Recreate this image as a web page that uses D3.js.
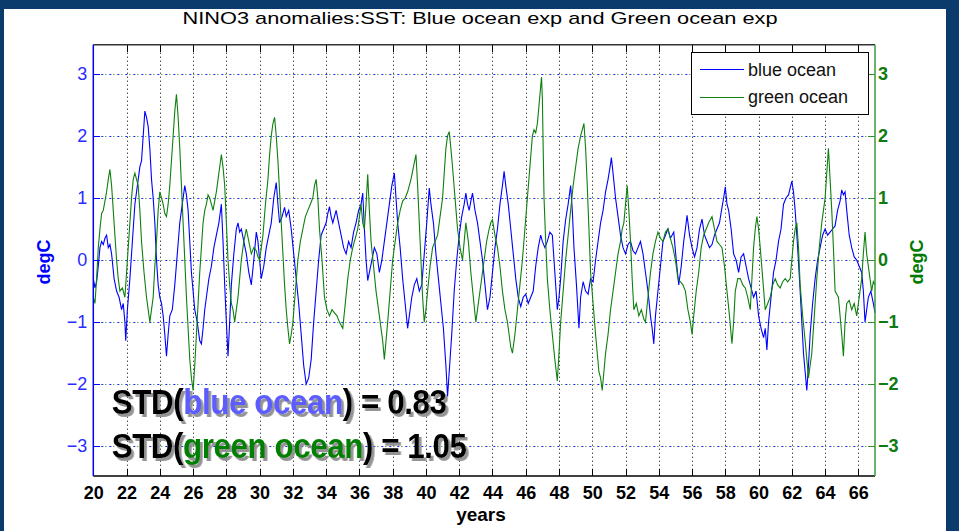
<!DOCTYPE html>
<html>
<head>
<meta charset="utf-8">
<title>NINO3 anomalies</title>
<script src="https://cdnjs.cloudflare.com/ajax/libs/d3/7.8.5/d3.min.js"></script>
<style>
  body{margin:0;background:#0b3a6d;}
  svg{display:block;font-family:Arial,"Liberation Sans",Helvetica,sans-serif;}
  .tick line{shape-rendering:crispEdges;}
</style>
</head>
<body>
<div id="chart"></div>
<script>
// values (years, degC)
var blueYears = [
 20.0,20.1,20.2,20.3,20.4,20.5,20.6,20.7,20.8,20.9,21.0,21.1,21.25,21.4,21.55,21.7,21.8,21.9,21.95,22.05,
 22.2,22.35,22.5,22.65,22.8,22.9,23.0,23.1,23.2,23.3,23.4,23.5,23.6,23.7,23.8,23.9,24.0,24.1,24.2,24.3,
 24.4,24.5,24.6,24.75,24.9,25.05,25.2,25.35,25.5,25.6,25.7,25.8,25.9,26.0,26.1,26.25,26.4,26.5,26.6,26.7,
 26.8,26.95,27.1,27.25,27.4,27.55,27.7,27.8,27.9,28.0,28.1,28.2,28.3,28.45,28.6,28.7,28.8,28.9,29.05,29.2,
 29.35,29.5,29.65,29.8,29.9,30.0,30.1,30.25,30.4,30.55,30.7,30.85,31.0,31.1,31.2,31.35,31.5,31.6,31.75,31.9,
 32.05,32.2,32.35,32.5,32.65,32.8,32.95,33.1,33.25,33.4,33.55,33.7,33.85,34.0,34.1,34.2,34.3,34.4,34.5,34.6,
 34.75,34.9,35.05,35.2,35.35,35.5,35.65,35.8,35.95,36.1,36.2,36.3,36.4,36.5,36.6,36.75,36.9,37.05,37.2,37.35,
 37.5,37.65,37.8,37.95,38.1,38.2,38.3,38.45,38.6,38.75,38.9,39.0,39.15,39.3,39.45,39.6,39.75,39.9,40.05,40.2,
 40.3,40.45,40.6,40.75,40.9,41.05,41.2,41.3,41.4,41.55,41.7,41.85,42.0,42.15,42.3,42.4,42.5,42.6,42.7,42.8,
 42.95,43.1,43.25,43.4,43.55,43.7,43.85,44.0,44.15,44.3,44.45,44.6,44.7,44.8,44.95,45.1,45.25,45.4,45.55,45.7,
 45.85,46.0,46.15,46.3,46.45,46.6,46.75,46.9,47.0,47.15,47.3,47.45,47.6,47.75,47.9,48.0,48.1,48.25,48.4,48.55,
 48.7,48.8,48.9,49.05,49.2,49.3,49.45,49.6,49.75,49.9,50.05,50.2,50.35,50.5,50.65,50.8,50.95,51.1,51.15,51.25,
 51.4,51.55,51.7,51.85,52.0,52.15,52.3,52.45,52.6,52.75,52.9,53.05,53.2,53.35,53.5,53.6,53.7,53.8,53.95,54.1,
 54.25,54.4,54.55,54.7,54.9,55.05,55.2,55.35,55.5,55.6,55.7,55.85,56.0,56.15,56.3,56.45,56.6,56.75,56.9,57.05,
 57.2,57.35,57.5,57.65,57.8,57.9,58.0,58.1,58.2,58.35,58.5,58.65,58.8,58.95,59.1,59.25,59.4,59.55,59.7,59.85,
 60.0,60.15,60.3,60.4,60.5,60.6,60.75,60.9,61.05,61.2,61.35,61.5,61.65,61.8,62.0,62.1,62.2,62.35,62.5,62.6,
 62.7,62.8,62.9,63.0,63.1,63.25,63.4,63.55,63.7,63.85,64.0,64.15,64.3,64.45,64.6,64.75,64.9,65.0,65.1,65.2,
 65.3,65.45,65.6,65.75,65.9,66.05,66.2,66.3,66.4,66.5,66.6,66.75,66.9,67.0
];
var blueValues = [
 -0.3,-0.45,-0.35,-0.1,0.2,0.3,0.25,0.35,0.4,0.2,0.25,0.1,-0.3,-0.5,-0.6,-0.8,-0.7,-1.0,-1.3,-0.8,
 -0.3,0.3,0.9,1.2,1.5,1.6,2.0,2.4,2.3,2.15,1.8,1.3,1.0,0.6,0.0,-0.4,-0.6,-0.7,-0.9,-1.2,
 -1.55,-1.2,-0.9,-0.8,-0.4,0.1,0.6,0.9,1.2,1.05,0.8,0.3,-0.2,-0.5,-0.8,-1.0,-1.3,-1.35,-1.1,-0.8,
 -0.6,-0.3,-0.1,0.2,0.4,0.6,0.9,0.3,-0.4,-1.0,-1.55,-1.0,-0.4,0.1,0.5,0.6,0.45,0.5,0.3,0.1,
 -0.2,-0.4,0.0,0.45,0.3,0.0,-0.3,-0.1,0.2,0.4,0.6,1.0,1.25,0.9,0.6,0.7,0.85,0.7,0.8,0.5,
 0.1,-0.3,-0.7,-1.2,-1.7,-2.0,-1.9,-1.6,-1.0,-0.5,0.0,0.4,0.5,0.6,0.75,0.86,0.7,0.6,0.7,0.8,
 0.6,0.4,0.2,0.1,0.3,0.2,0.45,0.6,0.8,0.9,1.08,0.5,0.0,-0.33,-0.2,0.0,0.2,0.1,-0.2,0.0,
 0.3,0.6,0.9,1.2,1.4,1.0,0.6,0.2,-0.3,-0.7,-1.1,-0.9,-0.6,-0.4,-0.3,-0.5,-0.4,0.1,0.6,1.16,
 0.9,0.6,0.1,-0.3,-0.7,-1.1,-1.7,-2.2,-1.8,-1.2,-0.5,0.0,0.4,0.7,0.9,1.08,0.9,0.8,0.95,1.08,
 0.8,0.6,0.3,0.0,-0.4,-0.8,-0.6,-0.2,0.2,0.5,0.9,1.2,1.43,1.2,0.9,0.5,0.1,-0.3,-0.6,-0.75,
 -0.6,-0.55,-0.7,-0.6,-0.5,-0.1,0.2,0.4,0.3,0.2,0.3,0.45,0.4,-0.2,-0.8,-0.6,-0.3,0.3,0.65,0.9,
 1.2,0.8,0.2,-0.4,-1.1,-0.6,-0.35,-0.5,-0.55,-0.3,-0.35,0.0,0.3,0.6,0.8,1.1,1.3,1.55,1.65,1.4,
 1.0,0.7,0.4,0.2,0.1,0.25,0.3,0.15,0.1,0.2,0.3,0.1,-0.2,-0.5,-0.9,-1.1,-1.35,-0.9,-0.5,-0.1,
 0.3,0.4,0.5,0.35,0.45,0.0,-0.4,-0.1,0.3,0.5,0.72,0.4,0.2,0.05,0.2,0.5,0.66,0.4,0.3,0.2,
 0.25,0.4,0.5,0.6,0.85,1.0,1.18,0.9,0.8,0.5,0.1,0.0,-0.2,0.05,0.1,-0.1,-0.3,-0.45,-0.6,-0.5,
 -0.9,-1.1,-1.25,-1.1,-1.45,-1.0,-0.6,-0.2,0.0,0.3,0.5,0.9,1.0,1.05,1.27,1.1,0.8,0.2,-0.5,-1.0,
 -1.5,-1.8,-2.1,-1.7,-1.2,-0.7,-0.3,0.0,0.2,0.4,0.5,0.4,0.45,0.5,0.55,0.8,0.95,1.13,1.05,1.1,
 0.8,0.4,0.2,0.05,0.0,-0.1,-0.2,-0.5,-1.0,-0.8,-0.6,-0.5,-0.7,-0.85
];
var greenYears = [
 20.0,20.1,20.2,20.3,20.4,20.5,20.6,20.7,20.8,20.9,21.0,21.1,21.2,21.3,21.4,21.5,21.6,21.75,21.9,22.0,
 22.1,22.2,22.3,22.4,22.5,22.6,22.7,22.8,22.9,23.05,23.2,23.3,23.4,23.5,23.6,23.7,23.8,23.9,24.0,24.1,
 24.2,24.3,24.4,24.5,24.6,24.7,24.8,24.9,25.0,25.1,25.2,25.3,25.4,25.5,25.6,25.7,25.8,25.9,26.0,26.1,
 26.2,26.3,26.4,26.5,26.6,26.7,26.8,26.9,27.0,27.1,27.2,27.3,27.4,27.5,27.6,27.7,27.8,27.9,28.0,28.1,
 28.2,28.3,28.4,28.5,28.6,28.7,28.8,28.9,29.05,29.2,29.35,29.5,29.65,29.8,29.9,30.0,30.1,30.2,30.35,30.5,
 30.6,30.7,30.8,30.9,31.0,31.1,31.2,31.3,31.4,31.5,31.6,31.7,31.8,31.9,32.0,32.15,32.3,32.45,32.6,32.75,
 32.9,33.05,33.2,33.3,33.4,33.5,33.6,33.75,33.9,34.05,34.2,34.35,34.5,34.65,34.8,34.9,35.0,35.15,35.3,35.45,
 35.6,35.75,35.9,36.0,36.1,36.2,36.3,36.4,36.5,36.6,36.7,36.85,37.0,37.15,37.3,37.4,37.5,37.6,37.7,37.85,
 38.0,38.15,38.3,38.45,38.6,38.75,38.9,39.0,39.1,39.25,39.4,39.5,39.6,39.7,39.8,39.9,40.0,40.1,40.25,40.4,
 40.55,40.7,40.85,41.0,41.1,41.2,41.3,41.4,41.5,41.6,41.75,41.9,42.05,42.2,42.3,42.4,42.55,42.7,42.85,43.0,
 43.1,43.2,43.35,43.5,43.65,43.8,43.9,44.0,44.15,44.3,44.45,44.6,44.75,44.9,45.0,45.1,45.2,45.35,45.5,45.65,
 45.8,45.95,46.1,46.25,46.4,46.5,46.6,46.7,46.8,46.9,46.95,47.0,47.05,47.1,47.2,47.3,47.45,47.6,47.75,47.9,
 48.0,48.1,48.25,48.4,48.55,48.7,48.85,49.0,49.15,49.3,49.4,49.5,49.6,49.7,49.8,49.9,50.05,50.2,50.3,50.4,
 50.5,50.6,50.7,50.8,50.95,51.1,51.25,51.4,51.55,51.7,51.8,51.9,52.0,52.1,52.2,52.3,52.4,52.5,52.65,52.8,
 52.95,53.1,53.2,53.35,53.5,53.65,53.8,53.95,54.1,54.25,54.4,54.55,54.7,54.85,55.0,55.15,55.3,55.45,55.6,55.75,
 55.9,56.0,56.1,56.25,56.4,56.55,56.7,56.85,57.0,57.2,57.35,57.5,57.65,57.8,57.95,58.1,58.25,58.4,58.5,58.6,
 58.75,58.9,59.05,59.2,59.35,59.5,59.6,59.7,59.8,59.9,60.0,60.1,60.25,60.4,60.55,60.7,60.85,61.0,61.15,61.3,
 61.45,61.6,61.75,61.9,62.0,62.1,62.2,62.3,62.4,62.5,62.65,62.8,62.9,63.0,63.1,63.2,63.35,63.5,63.65,63.8,
 63.9,64.0,64.1,64.2,64.3,64.4,64.5,64.6,64.7,64.8,64.9,65.0,65.1,65.2,65.3,65.45,65.6,65.75,65.9,66.0,
 66.1,66.2,66.3,66.4,66.5,66.6,66.7,66.8,66.9,67.0
];
var greenValues = [
 -0.6,-0.7,-0.3,0.2,0.5,0.75,0.8,0.95,1.1,1.3,1.46,1.2,0.8,0.4,0.0,-0.3,-0.5,-0.45,-0.6,-0.2,
 0.2,0.6,1.0,1.3,1.4,1.3,1.2,0.8,0.3,-0.2,-0.6,-0.8,-1.0,-0.8,-0.6,-0.1,0.3,0.8,1.1,1.0,
 0.9,0.75,0.7,0.9,1.2,1.6,2.0,2.4,2.67,2.3,1.8,1.2,0.6,0.0,-0.6,-1.1,-1.6,-1.9,-2.1,-1.7,
 -1.2,-0.7,-0.2,0.2,0.6,0.8,0.9,1.05,1.0,0.9,0.8,0.95,1.1,1.3,1.5,1.7,1.5,1.2,0.6,0.0,
 -0.4,-0.7,-0.8,-1.0,-0.8,-0.6,-0.3,0.0,0.3,0.5,0.3,0.1,0.2,0.15,0.05,0.0,0.2,0.4,0.9,1.3,
 1.7,2.0,2.2,2.3,2.0,1.6,1.1,0.6,0.1,-0.4,-0.8,-1.1,-1.35,-1.2,-1.0,-0.5,0.0,0.3,0.5,0.7,
 0.8,0.9,1.0,1.2,1.3,1.0,0.5,0.0,-0.6,-0.8,-0.9,-0.8,-0.85,-0.9,-1.0,-1.05,-1.1,-0.7,-0.3,0.0,
 0.2,0.35,0.5,0.7,0.9,0.6,0.5,0.9,1.38,0.8,0.3,-0.1,-0.5,-0.8,-1.1,-1.3,-1.6,-1.3,-1.0,-0.5,
 0.0,0.3,0.6,0.8,0.95,1.0,1.1,1.2,1.3,1.5,1.7,1.2,0.6,0.0,-0.6,-1.0,-0.8,-0.5,-0.1,0.2,
 0.3,0.4,0.7,1.0,1.4,1.8,2.0,2.07,1.8,1.5,1.0,0.5,0.2,0.0,0.3,0.6,0.3,-0.2,-0.6,-1.0,
 -0.8,-0.6,-0.3,0.0,0.3,0.5,0.6,0.65,0.4,0.2,-0.1,-0.5,-0.8,-1.0,-1.2,-1.4,-1.5,-1.2,-0.8,-0.4,
 0.0,0.5,1.0,1.5,2.0,2.1,2.05,2.2,2.5,2.8,2.95,2.6,1.8,1.0,0.3,-0.3,-0.8,-1.2,-1.6,-1.95,
 -1.5,-1.0,-0.5,0.0,0.4,0.8,1.2,1.5,1.8,2.0,2.1,2.2,1.8,1.2,0.5,-0.2,-0.7,-1.2,-1.5,-1.8,
 -1.9,-2.1,-1.8,-1.5,-1.2,-0.8,-0.5,-0.2,0.1,0.3,0.5,0.6,0.9,1.2,0.8,0.3,-0.3,-0.8,-0.7,-0.9,
 -0.8,-0.95,-1.0,-0.6,-0.2,0.1,0.3,0.45,0.35,0.3,0.45,0.5,0.35,0.2,0.0,-0.3,-0.35,-0.4,-0.5,-0.8,
 -1.0,-1.2,-0.9,-0.5,-0.2,0.2,0.4,0.5,0.6,0.7,0.5,0.3,0.25,0.2,-0.1,-0.5,-0.9,-1.35,-1.0,-0.5,
 -0.3,-0.3,-0.4,-0.45,-0.6,-0.8,-0.3,0.2,0.5,0.7,0.5,0.2,-0.3,-0.8,-0.7,-0.6,-0.4,-0.3,-0.4,-0.45,
 -0.35,-0.3,-0.35,-0.3,0.0,0.3,0.5,0.6,0.2,-0.4,-0.9,-1.3,-1.6,-1.9,-1.7,-1.5,-0.9,-0.3,0.2,0.6,
 0.8,1.0,1.4,1.8,1.3,0.8,0.2,-0.5,-0.55,-0.6,-0.9,-1.2,-1.55,-1.0,-0.7,-0.65,-0.8,-0.7,-0.9,-0.7,
 -0.5,-0.3,0.1,0.45,0.1,-0.1,-0.3,-0.5,-0.35,-0.4
];
var xTicks = d3.range(20, 67, 2);
var yTicks = [-3, -2, -1, 0, 1, 2, 3];
var seriesNames = ["blue ocean", "green ocean"];
var stdValues = ["0.83", "1.05"];

(function(){
var W = 959, H = 531;
var pL = 93.3, pR = 875, pT = 44.7, pB = 476;

var svg = d3.select("#chart").append("svg")
  .attr("width", W).attr("height", H);

// drop shadow for the big STD labels
var f = svg.append("defs").append("filter").attr("id", "shadow")
  .attr("x", "-5%").attr("y", "-20%").attr("width", "115%").attr("height", "150%");
f.append("feDropShadow").attr("dx", 3).attr("dy", 3).attr("stdDeviation", 0.6)
  .attr("flood-color", "#888").attr("flood-opacity", 0.9);

// navy frame + white panel
svg.append("rect").attr("width", W).attr("height", H).attr("fill", "#0b3a6d");
svg.append("rect").attr("x", 4).attr("y", 9).attr("width", 942).attr("height", H - 9).attr("fill", "#fff");

var x = d3.scaleLinear().domain([20, 67]).range([pL, pR]);
var y = d3.scaleLinear().domain([-3.48, 3.47]).range([pB, pT]);

// title
svg.append("text")
  .attr("x", 480).attr("y", 24)
  .attr("text-anchor", "middle")
  .attr("font-size", 17)
  .attr("textLength", 595).attr("lengthAdjust", "spacingAndGlyphs")
  .text("NINO3 anomalies:SST: Blue ocean exp and Green ocean exp");

// grid
var grid = svg.append("g");
grid.selectAll(".vg").data(xTicks.filter(function(d){ return d > 20; }))
  .enter().append("line")
  .attr("x1", function(d){ return Math.round(x(d)) + 0.5; })
  .attr("x2", function(d){ return Math.round(x(d)) + 0.5; })
  .attr("y1", pT).attr("y2", pB)
  .attr("stroke", "#000").attr("stroke-dasharray", "1,3");
yTicks.forEach(function(d){
  var yy = Math.round(y(d)) + 0.5;
  grid.append("line").attr("x1", pL).attr("x2", pR).attr("y1", yy).attr("y2", yy)
    .attr("stroke", "#2222ff").attr("stroke-dasharray", "2,6");
  grid.append("line").attr("x1", pL).attr("x2", pR).attr("y1", yy).attr("y2", yy)
    .attr("stroke", "#1a8a1a").attr("stroke-dasharray", "1,7").attr("stroke-dashoffset", -4);
});

// series
var line = d3.line()
  .x(function(d){ return x(d[0]); })
  .y(function(d){ return y(d[1]); });
var blueData = d3.zip(blueYears, blueValues);
var greenData = d3.zip(greenYears, greenValues);

svg.append("path").datum(blueData).attr("d", line)
  .attr("fill", "none").attr("stroke", "#0000ff").attr("stroke-width", 1.1);
svg.append("path").datum(greenData).attr("d", line)
  .attr("fill", "none").attr("stroke", "#0e800e").attr("stroke-width", 1.1);

// axes
var xAxisB = d3.axisBottom(x).tickValues(xTicks).tickSizeInner(-7).tickSizeOuter(0).tickPadding(10).tickFormat(d3.format("d"));
var gxb = svg.append("g").attr("transform", "translate(0," + pB + ")").call(xAxisB);
gxb.select(".domain").remove();
gxb.selectAll("text").attr("font-size", 18).attr("font-weight", "bold").attr("fill", "#000");
gxb.selectAll("line").attr("stroke", "#000");

var xAxisT = d3.axisTop(x).tickValues(xTicks).tickSizeInner(-7).tickSizeOuter(0).tickFormat("");
var gxt = svg.append("g").attr("transform", "translate(0," + pT + ")").call(xAxisT);
gxt.select(".domain").remove();

var yAxisL = d3.axisLeft(y).tickValues(yTicks).tickSizeInner(-7).tickSizeOuter(0).tickPadding(6).tickFormat(d3.format("d"));
var gyl = svg.append("g").attr("transform", "translate(" + pL + ",0)").call(yAxisL);
gyl.select(".domain").remove();
gyl.selectAll("line").attr("stroke", "#0000ff");
gyl.selectAll("text").attr("font-size", 18).attr("fill", "#2b2bff");

var yAxisR = d3.axisRight(y).tickValues(yTicks).tickSizeInner(-7).tickSizeOuter(0).tickPadding(3).tickFormat(d3.format("d"));
var gyr = svg.append("g").attr("transform", "translate(" + pR + ",0)").call(yAxisR);
gyr.select(".domain").remove();
gyr.selectAll("line").attr("stroke", "#2e8b2e");
gyr.selectAll("text").attr("font-size", 18).attr("font-weight", "bold").attr("fill", "#0f7a0f");

// frame lines
svg.append("line").attr("x1", pL).attr("x2", pR).attr("y1", pT).attr("y2", pT).attr("stroke", "#333").attr("stroke-width", 1.5);
svg.append("line").attr("x1", pL).attr("x2", pR).attr("y1", pB).attr("y2", pB).attr("stroke", "#000").attr("stroke-width", 1.5);
svg.append("line").attr("x1", pL).attr("x2", pL).attr("y1", pT).attr("y2", pB).attr("stroke", "#0000ff").attr("stroke-width", 1.5);
svg.append("line").attr("x1", pR).attr("x2", pR).attr("y1", pT).attr("y2", pB).attr("stroke", "#3a9a3a").attr("stroke-width", 1.5);

// axis titles
svg.append("text").attr("transform", "translate(50,262) rotate(-90)")
  .attr("text-anchor", "middle").attr("font-size", 18).attr("font-weight", "bold").attr("fill", "#0000ff")
  .text("degC");
svg.append("text").attr("transform", "translate(923,262) rotate(-90)")
  .attr("text-anchor", "middle").attr("font-size", 18).attr("font-weight", "bold").attr("fill", "#007a00")
  .text("degC");
svg.append("text").attr("x", 481).attr("y", 521)
  .attr("text-anchor", "middle").attr("font-size", 19).attr("font-weight", "bold")
  .text("years");

// legend
var lg = svg.append("g");
lg.append("rect").attr("x", 691.5).attr("y", 52.5).attr("width", 177).attr("height", 62)
  .attr("fill", "#fff").attr("stroke", "#000");
[["#0000ff", 69.5, 76], ["#0e800e", 97.5, 103]].forEach(function(s, i){
  lg.append("line").attr("x1", 700).attr("x2", 744).attr("y1", s[1]).attr("y2", s[1])
    .attr("stroke", s[0]).attr("stroke-width", 1.1);
  lg.append("text").attr("x", 748).attr("y", s[2]).attr("font-size", 18).attr("fill", "#111")
    .text(seriesNames[i]);
});

// STD annotation
var stdColors = ["#5c5cff", "#008000"];
var stdBase = [413.5, 457.5];
var stdWidth = [335, 355];
seriesNames.forEach(function(name, i){
  var t = svg.append("text")
    .attr("font-size", 35).attr("font-weight", "bold")
    .attr("letter-spacing", -0.5)
    .attr("filter", "url(#shadow)");
  t.append("tspan").attr("fill", "#000").text("STD(");
  t.append("tspan").attr("fill", stdColors[i]).text(name);
  t.append("tspan").attr("fill", "#000").text(") = " + stdValues[i]);
  var k = stdWidth[i] / t.node().getComputedTextLength();
  t.attr("transform", "translate(111.7," + stdBase[i] + ") scale(" + k + ",1)");
});
})();
</script>
</body>
</html>
